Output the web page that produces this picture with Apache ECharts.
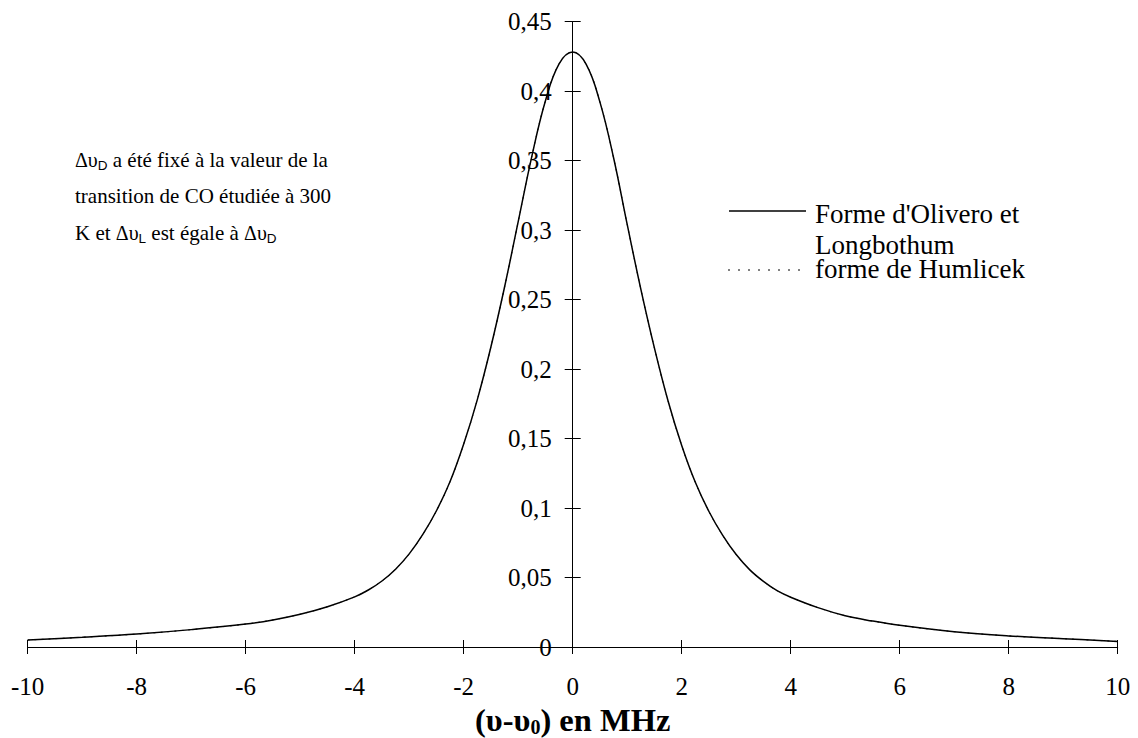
<!DOCTYPE html>
<html>
<head>
<meta charset="utf-8">
<script src="https://cdn.jsdelivr.net/npm/echarts@6/dist/echarts.min.js"></script>
<style>
  html, body { margin: 0; padding: 0; background: #fff; }
  #chart { width: 1138px; height: 738px; }
</style>
</head>
<body>
<div id="chart"></div>
<script>
// Detuning from line centre (MHz)
const detuning = [-10, -9, -8, -7, -6, -5.5, -5, -4.5, -4, -3.75, -3.5, -3.25, -3, -2.75, -2.5,
  -2.25, -2, -1.75, -1.5, -1.25, -1, -0.75, -0.5, -0.25, 0, 0.25, 0.5, 0.75, 1, 1.25, 1.5, 1.75,
  2, 2.25, 2.5, 2.75, 3, 3.25, 3.5, 3.75, 4, 4.5, 5, 5.5, 6, 7, 8, 9, 10];

// Profile from the Olivero & Longbothum approximation
const oliveroLongbothum = [0.0050, 0.0070, 0.0093, 0.0125, 0.0165, 0.0195, 0.0236, 0.0290, 0.0361,
  0.0410, 0.0475, 0.0560, 0.0670, 0.0810, 0.0980, 0.1190, 0.1460, 0.1780, 0.2160, 0.2590, 0.3060,
  0.3530, 0.3930, 0.4195, 0.4280, 0.4190, 0.3920, 0.3520, 0.3040, 0.2575, 0.2150, 0.1770, 0.1450,
  0.1185, 0.0975, 0.0805, 0.0665, 0.0555, 0.0472, 0.0405, 0.0358, 0.0283, 0.0225, 0.0187, 0.0156,
  0.0110, 0.0080, 0.0060, 0.0040];

// Profile from the Humlicek algorithm
const humlicek = [0.0050, 0.0070, 0.0093, 0.0125, 0.0165, 0.0195, 0.0236, 0.0290, 0.0361,
  0.0410, 0.0475, 0.0560, 0.0670, 0.0810, 0.0980, 0.1190, 0.1460, 0.1780, 0.2160, 0.2590, 0.3060,
  0.3530, 0.3930, 0.4195, 0.4280, 0.4190, 0.3920, 0.3520, 0.3040, 0.2575, 0.2150, 0.1770, 0.1450,
  0.1185, 0.0975, 0.0805, 0.0665, 0.0555, 0.0472, 0.0405, 0.0358, 0.0283, 0.0225, 0.0187, 0.0156,
  0.0110, 0.0080, 0.0060, 0.0040];

const seriesNames = ["Forme d'Olivero et Longbothum", 'forme de Humlicek'];

// Annotation lines on the Doppler and Lorentz widths
const noteLines = [
  '{g|\u0394\u03C5}{s|D}{a| a été fixé à la valeur de la}',
  '{a|transition de CO étudiée à 300}',
  '{a|K et }{g|\u0394\u03C5}{s|L}{a| est égale à }{g|\u0394\u03C5}{s|D}'
];

const SERIF = 'Liberation Serif, Times New Roman, serif';
const SANS = 'Liberation Sans, Arial, sans-serif';
const TICK_FONT = 25;
const NOTE_FONT = 21;
const LEGEND_FONT = 27;

// Plot frame in pixels; the axes cross at the origin of the data
const GRID = { left: 27.7, right: 20.3, top: 21.5, bottom: 91 };
const PLOT_W = 1138 - GRID.left - GRID.right;
const PLOT_H = 738 - GRID.top - GRID.bottom;
const X_MIN = -10, X_MAX = 10;
const zeroShift = PLOT_W * (0 - X_MIN) / (X_MAX - X_MIN);

const pairs = (xs, ys) => xs.map((x, i) => [x, ys[i]]);
const decimalComma = v => String(Math.round(v * 100) / 100).replace('.', ',');

const chart = echarts.init(document.getElementById('chart'), null, { renderer: 'svg' });

const baseX = {
  type: 'value', min: X_MIN, max: X_MAX, interval: 2,
  splitLine: { show: false }
};
const baseY = {
  type: 'value', min: 0, max: 0.45, interval: 0.05,
  splitLine: { show: false }
};
const lineBlack = { color: '#000', width: 1 };

// Rich-text styles for the annotation block
const noteRich = {
  a: { fontFamily: SERIF, fontSize: NOTE_FONT, fontWeight: 'normal', color: '#000', lineHeight: 25 },
  g: { fontFamily: SERIF, fontSize: NOTE_FONT - 1, fontWeight: 'normal', color: '#000', lineHeight: 25 },
  s: { fontFamily: SANS, fontSize: 13.5, fontWeight: 'normal', color: '#000', verticalAlign: 'bottom', lineHeight: 17 }
};
const noteTitles = noteLines.map((text, i) => ({
  text,
  left: 75,
  top: 147 + i * 36.5,
  padding: 0,
  itemGap: 0,
  textStyle: { fontFamily: SERIF, fontSize: NOTE_FONT, fontWeight: 'normal', color: '#000', rich: noteRich }
}));

chart.setOption({
  backgroundColor: '#fff',
  animation: false,
  title: noteTitles,
  grid: Object.assign({ containLabel: false, outerBoundsMode: 'none' }, GRID),
  xAxis: [
    Object.assign({}, baseX, {
      position: 'bottom',
      axisLine: { onZero: false, lineStyle: lineBlack },
      axisTick: { show: true, length: 7, lineStyle: lineBlack },
      axisLabel: {
        show: true, margin: 27, color: '#000', fontFamily: SERIF, fontSize: TICK_FONT,
        showMinLabel: true, showMaxLabel: true
      },
      name: '{a|(\u03C5-\u03C5}{s|0}{a|) en MHz}',
      nameLocation: 'middle',
      nameGap: 53,
      nameTextStyle: {
        rich: {
          a: { fontFamily: SERIF, fontWeight: 'bold', fontSize: 32.5, color: '#000' },
          s: { fontFamily: SERIF, fontWeight: 'bold', fontSize: 20, color: '#000', verticalAlign: 'bottom', lineHeight: 30 }
        }
      }
    }),
    Object.assign({}, baseX, {
      position: 'top',
      offset: -PLOT_H,
      axisLine: { show: false, onZero: false },
      axisTick: { show: true, length: 7, lineStyle: lineBlack },
      axisLabel: { show: false }
    })
  ],
  yAxis: [
    Object.assign({}, baseY, {
      position: 'left',
      offset: -zeroShift,
      axisLine: { onZero: false, lineStyle: lineBlack },
      axisTick: { show: true, length: 8, lineStyle: lineBlack },
      axisLabel: {
        show: true, margin: 21, color: '#000', fontFamily: SERIF, fontSize: TICK_FONT,
        formatter: decimalComma
      }
    }),
    Object.assign({}, baseY, {
      position: 'right',
      offset: -(PLOT_W - zeroShift),
      axisLine: { show: false, onZero: false },
      axisTick: { show: true, length: 8, lineStyle: lineBlack },
      axisLabel: { show: false }
    })
  ],
  series: [
    {
      name: seriesNames[1],
      type: 'line',
      xAxisIndex: 0, yAxisIndex: 0,
      data: pairs(detuning, humlicek),
      smooth: 0.4,
      showSymbol: false,
      lineStyle: { color: '#000', width: 1, type: [2, 5] },
      z: 2
    },
    {
      name: seriesNames[0],
      type: 'line',
      xAxisIndex: 0, yAxisIndex: 0,
      data: pairs(detuning, oliveroLongbothum),
      smooth: 0.4,
      showSymbol: false,
      lineStyle: { color: '#000', width: 1.5 },
      z: 3
    }
  ],
  graphic: [
    // Legend
    {
      type: 'line', shape: { x1: 729, y1: 211, x2: 806, y2: 211 },
      style: { stroke: '#000', lineWidth: 1.3 }
    },
    {
      type: 'text', left: 815, top: 200,
      style: { text: "Forme d'Olivero et", fontFamily: SERIF, fontSize: LEGEND_FONT, fill: '#000' }
    },
    {
      type: 'text', left: 815, top: 231,
      style: { text: 'Longbothum', fontFamily: SERIF, fontSize: LEGEND_FONT, fill: '#000' }
    },
    {
      type: 'line', shape: { x1: 728, y1: 270, x2: 808, y2: 270 },
      style: { stroke: '#000', lineWidth: 1, lineDash: [2, 8] }
    },
    {
      type: 'text', left: 815, top: 255,
      style: { text: 'forme de Humlicek', fontFamily: SERIF, fontSize: LEGEND_FONT, fill: '#000' }
    }
  ]
});
</script>
</body>
</html>
